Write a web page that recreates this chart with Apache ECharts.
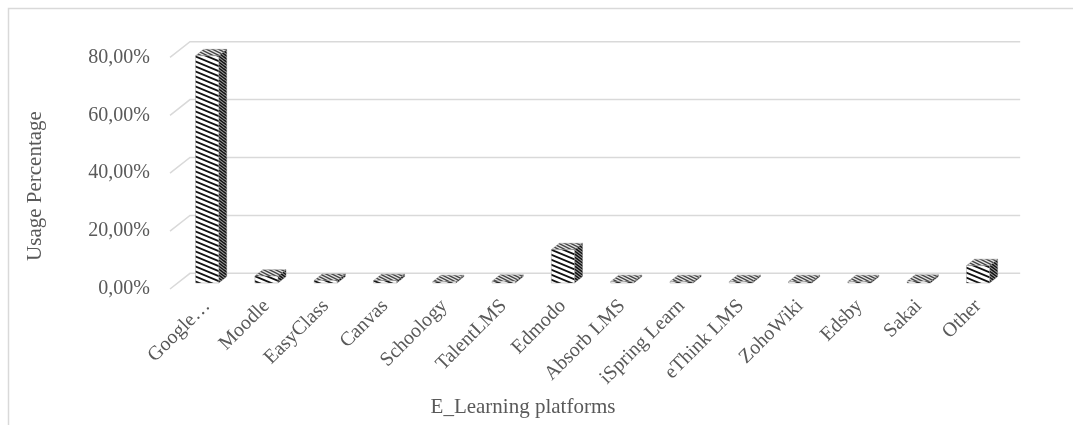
<!DOCTYPE html>
<html>
<head>
<meta charset="utf-8">
<script src="https://cdn.jsdelivr.net/npm/echarts@6/dist/echarts.min.js"></script>
<style>html,body{margin:0;padding:0;background:#fff}#c{width:1073px;height:425px}</style>
</head>
<body>
<div id="c"></div>
<script>
const categories = ['Google…','Moodle','EasyClass','Canvas','Schoology','TalentLMS','Edmodo','Absorb LMS','iSpring Learn','eThink LMS','ZohoWiki','Edsby','Sakai','Other'];
const usage = [78.5, 2.4, 0.9, 0.8, 0.5, 0.6, 11.5, 0.5, 0.5, 0.5, 0.5, 0.5, 0.6, 6.0];
const yTicks = [0, 20, 40, 60, 80];
const yTitle = 'Usage Percentage';
const xTitle = 'E_Learning platforms';

const FONT = '"Liberation Serif","Times New Roman",serif';
const TXT = '#595959';
const GRIDC = '#d9d9d9';

function stripes(bg, fg, lw, per, run) {
  const w = run * 2, h = per * 2;
  const c = document.createElement('canvas');
  c.width = w; c.height = h;
  const g = c.getContext('2d');
  g.fillStyle = bg; g.fillRect(0, 0, w, h);
  g.strokeStyle = fg; g.lineWidth = lw;
  const s = per / run;
  for (let k = -6; k <= 6; k++) {
    g.beginPath();
    g.moveTo(-4, -4 * s + k * per);
    g.lineTo(w + 4, (w + 4) * s + k * per);
    g.stroke();
  }
  return { image: c, repeat: 'repeat' };
}
const frontFill = stripes('#ffffff', '#111111', 1.8, 5, 12);
const sideFill = stripes('#a0a0a0', '#111111', 1.4, 3, 4);
const topFill = stripes('#e6e6e6', '#444444', 1.4, 3, 6);

const BACK = [12.5, -9.7], FRONT = [-7.5, 6], DEP = [8, -6.4];

const chart = echarts.init(document.getElementById('c'));
chart.setOption({
  animation: false,
  graphic: [
    { type: 'rect', shape: { x: 8.5, y: 8.5, width: 1200, height: 600 }, style: { fill: 'none', stroke: GRIDC, lineWidth: 1.5 }, silent: true, z: -10 },
    { type: 'text', x: 35, y: 186, rotation: Math.PI / 2, style: { text: yTitle, font: '21px ' + FONT, fill: TXT, align: 'center', verticalAlign: 'middle' } },
    { type: 'text', x: 523, y: 407, style: { text: xTitle, font: '21px ' + FONT, fill: TXT, align: 'center', verticalAlign: 'middle' } }
  ],
  grid: [
    { left: 170, right: 73.3, top: 57.4, bottom: 136 },
    { left: 177.5, right: 65.3, top: 51.4, bottom: 142 }
  ],
  xAxis: [
    { gridIndex: 0, type: 'category', data: categories, show: false },
    { gridIndex: 1, type: 'category', data: categories,
      axisLine: { show: false }, axisTick: { show: false },
      axisLabel: { interval: 0, rotate: 45, margin: 20, color: TXT, fontFamily: FONT, fontSize: 20 } }
  ],
  yAxis: [
    { gridIndex: 0, type: 'value', min: 0, max: 80, interval: 20,
      axisLine: { show: false }, axisTick: { show: false }, splitLine: { show: false },
      axisLabel: { margin: 20, color: TXT, fontFamily: FONT, fontSize: 20,
        formatter: v => v.toFixed(2).replace('.', ',') + '%' } },
    { gridIndex: 1, type: 'value', min: 0, max: 80, interval: 20, show: false, splitLine: { show: false } }
  ],
  series: [
    { type: 'custom', xAxisIndex: 1, yAxisIndex: 1, z: 1, silent: true,
      data: yTicks.map(v => [0, v]),
      renderItem: (params, api) => {
        const cs = params.coordSys;
        const y = api.coord([0, api.value(1)])[1];
        const x0 = cs.x, x1 = cs.x + cs.width;
        return { type: 'polyline', shape: { points: [[x0 + FRONT[0], y + FRONT[1]], [x0 + BACK[0], y + BACK[1]], [x1 + BACK[0], y + BACK[1]]] },
          style: { stroke: GRIDC, lineWidth: 1.5, fill: null } };
      } },
    { type: 'custom', xAxisIndex: 1, yAxisIndex: 1, z: 5, silent: true,
      data: usage.map((v, i) => [i, v]),
      renderItem: (params, api) => {
        const i = api.value(0), v = api.value(1);
        const b = api.coord([i, 0]), t = api.coord([i, v]);
        const w = api.size([1, 0])[0] * 0.39;
        const xL = b[0] - w / 2, xR = b[0] + w / 2, yB = b[1], yT = t[1];
        const dx = DEP[0], dy = DEP[1];
        return { type: 'group', children: [
          { type: 'polygon', shape: { points: [[xR, yT], [xR + dx, yT + dy], [xR + dx, yB + dy], [xR, yB]] }, style: { fill: sideFill, stroke: '#666', lineWidth: 0.4 } },
          { type: 'polygon', shape: { points: [[xL, yT], [xR, yT], [xR + dx, yT + dy], [xL + dx, yT + dy]] }, style: { fill: topFill, stroke: '#777', lineWidth: 0.4 } },
          { type: 'rect', shape: { x: xL, y: yT, width: w, height: yB - yT }, style: { fill: frontFill, stroke: '#888', lineWidth: 0.4 } }
        ] };
      } }
  ]
});
</script>
</body>
</html>
